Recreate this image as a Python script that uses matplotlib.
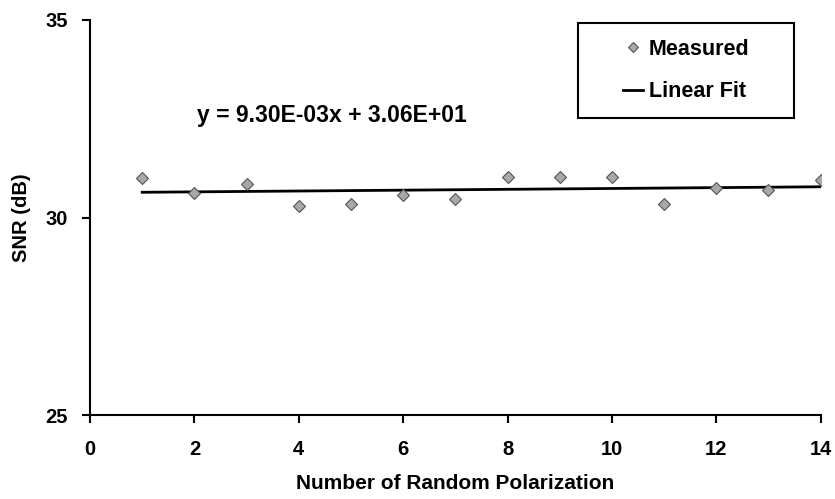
import numpy as np
import matplotlib.pyplot as plt
from matplotlib.patches import Rectangle

# values
nPol = [1, 2, 3, 4, 5, 6, 7, 8, 9, 10, 11, 12, 13, 14]
snr = [31.0, 30.63, 30.84, 30.30, 30.34, 30.56, 30.46, 31.02, 31.02, 31.02, 30.35, 30.75, 30.70, 30.94]
xTicks = [0, 2, 4, 6, 8, 10, 12, 14]
yTicks = [25, 30, 35]
eqText = "y = 9.30E-03x + 3.06E+01"

plt.rcParams['font.family'] = ['Liberation Sans', 'DejaVu Sans']
plt.rcParams['font.weight'] = 'bold'

fig = plt.figure(figsize=(8.35, 4.99), dpi=100)
ax = fig.add_axes([0.1078, 0.168, 0.875, 0.792])

#linear fit from the data
slope, icpt = np.polyfit(nPol, snr, 1)
xs = np.array([nPol[0], nPol[-1]])

ax.plot(nPol, snr, 'D', markersize=6, markerfacecolor='#a8a8a8',
        markeredgecolor='#555555', markeredgewidth=0.8, label='Measured', zorder=3)
ax.plot(xs, slope*xs + icpt, color='black', linewidth=2, label='Linear Fit')

ax.set_xlim(0, 14)
ax.set_ylim(25, 35)
ax.set_xticks(xTicks)
ax.set_yticks(yTicks)
for s in ['top', 'right']:
    ax.spines[s].set_visible(False)
for s in ['left', 'bottom']:
    ax.spines[s].set_linewidth(1.5)
ax.tick_params(direction='out', length=6, width=1.5, labelsize=14.5)
ax.tick_params(axis='x', pad=12)
ax.tick_params(axis='y', pad=10)
for lbl in ax.get_xticklabels() + ax.get_yticklabels():
    lbl.set_fontweight('bold')

ax.set_xlabel('Number of Random Polarization', fontsize=15, fontweight='bold', labelpad=11)
ax.set_ylabel('SNR (dB)', fontsize=14.5, fontweight='bold', labelpad=10)

ax.text(2.05, 32.57, eqText, fontsize=16.5, fontweight='bold', va='center')

# legend frame drawn by hand, content centred inside it
x0, x1, y0, y1 = 0.6685, 0.963, 0.752, 0.992
ax.add_patch(Rectangle((x0, y0), x1 - x0, y1 - y0, transform=ax.transAxes,
                       fill=False, edgecolor='black', linewidth=1.5, clip_on=False))
leg = ax.legend(loc='center', bbox_to_anchor=((x0 + x1) / 2, (y0 + y1) / 2), fontsize=15.5,
                frameon=False, handlelength=0.95, handletextpad=0.25, borderpad=0,
                labelspacing=1.0, markerscale=0.8)
for t in leg.get_texts():
    t.set_fontweight('bold')

fig.savefig('out.png', dpi=100)
